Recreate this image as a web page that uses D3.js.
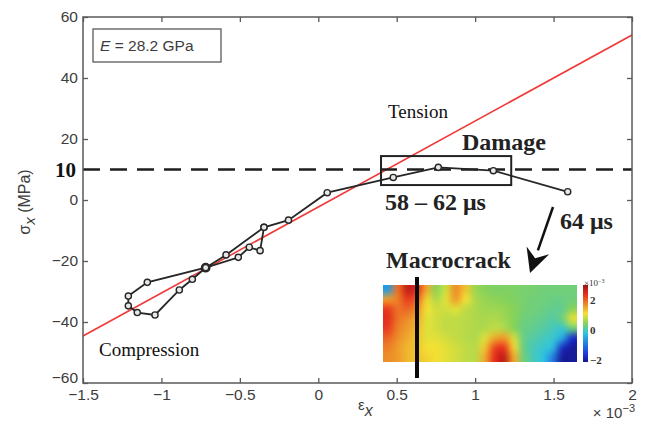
<!DOCTYPE html>
<html>
<head>
<meta charset="utf-8">
<script src="https://cdn.jsdelivr.net/npm/d3@7"></script>
<style>
body { margin: 0; background: #fff; }
</style>
</head>
<body>
<div id="chart"></div>
<script>

let w = 648;
let h = 437;

// strain (x 10^-3) and stress (MPa) along the loading path
let strain = [-0.346, -0.371, -0.44, -0.51, -0.718, -0.803, -0.886, -1.041, -1.154, -1.211, -1.211, -1.09, -0.718, -0.588, -0.346, -0.19, 0.057, 0.478, 0.765, 1.116, 1.59];
let stress = [-8.95, -16.6, -15.5, -18.8, -22.2, -26, -29.5, -37.7, -36.9, -34.7, -31.5, -27, -22.2, -18.0, -8.95, -6.6, 2.4, 7.4, 10.7, 9.6, 2.7];
let filledPoint = 4;

let xTicks = [-1.5, -1, -0.5, 0, 0.5, 1, 1.5, 2];
let yTicks = [-60, -40, -20, 0, 20, 40, 60];
let damageLevel = 10;
let modulus = 28.2;      // GPa -> MPa per 10^-3 strain
let modulusOffset = -2.3;
let damageBox = { strain: [0.4, 1.23], stress: [4.9, 14.4] };

// strain field inset (x 10^-3), rows top -> bottom
let fieldRows = [
	[-0.6, 1.9, 2.7, 2.4, 1.5, 0.5, 0.9, 1.7, 1.3, 0.6, 0.45, 0.4, 0.4, 0.4, 0.35, 0.35, 0.3, 0.3, 0.3, 0.3],
	[1.6, 1.8, 2.3, 2.0, 1.2, 0.7, 1.0, 1.6, 1.1, 0.7, 0.55, 0.5, 0.45, 0.4, 0.35, 0.3, 0.3, 0.25, 0.25, 0.3],
	[2.3, 1.9, 2.0, 1.7, 1.1, 0.9, 0.9, 1.0, 0.8, 0.7, 0.6, 0.6, 0.55, 0.45, 0.35, 0.3, 0.25, 0.2, 0.2, 0.5],
	[2.4, 1.9, 1.7, 1.5, 1.0, 0.9, 0.8, 0.8, 0.75, 0.7, 0.65, 0.7, 0.6, 0.45, 0.3, 0.25, 0.2, 0.1, 0.3, 1.0],
	[2.3, 1.8, 1.6, 1.4, 1.0, 0.9, 0.8, 0.8, 0.75, 0.7, 0.7, 0.8, 0.7, 0.45, 0.25, 0.2, 0.1, 0.0, -0.1, 0.3],
	[2.0, 1.7, 1.5, 1.3, 1.0, 1.0, 0.9, 0.8, 0.75, 0.7, 0.95, 1.5, 1.6, 0.9, 0.25, 0.1, 0.0, -0.1, -0.5, -1.7],
	[1.8, 1.6, 1.4, 1.3, 1.1, 1.1, 1.0, 0.9, 0.8, 0.75, 1.3, 2.2, 2.3, 1.2, 0.25, 0.0, -0.1, -0.3, -1.7, -2.0],
	[1.7, 1.6, 1.4, 1.3, 1.2, 1.1, 1.0, 0.9, 0.8, 0.75, 1.5, 2.4, 2.7, 1.5, 0.3, 0.0, -0.2, -0.9, -2.0, -2.0]
];
let fieldTicks = [2, 0, -2];
let fieldDomain = [-2.1, 3];

let sans = "'Liberation Sans', Arial, sans-serif";
let serif = "'Liberation Serif', 'Times New Roman', serif";

let plotLeft = 83, plotRight = 632, plotTop = 17, plotBottom = 383;

let viz = d3.select("#chart").append("svg")
	.attr("width", w)
	.attr("height", h)
	.style("background-color", "white")
;

let xScale = d3.scaleLinear().domain([-1.5, 2]).range([plotLeft, plotRight]);
let yScale = d3.scaleLinear().domain([-60, 60]).range([plotBottom, plotTop]);

let defs = viz.append("defs");

// clip for plot content
defs.append("clipPath").attr("id", "plotClip")
	.append("rect")
		.attr("x", plotLeft).attr("y", plotTop)
		.attr("width", plotRight - plotLeft).attr("height", plotBottom - plotTop);

let plot = viz.append("g").attr("clip-path", "url(#plotClip)");

// elastic line
plot.append("line")
	.attr("x1", xScale(-1.5)).attr("y1", yScale(modulus * -1.5 + modulusOffset))
	.attr("x2", xScale(2)).attr("y2", yScale(modulus * 2 + modulusOffset))
	.attr("stroke", "#f03a3a")
	.attr("stroke-width", 1.6);

// damage threshold
plot.append("line")
	.attr("x1", plotLeft).attr("x2", plotRight)
	.attr("y1", yScale(damageLevel)).attr("y2", yScale(damageLevel))
	.attr("stroke", "#1e1e1e")
	.attr("stroke-width", 2.6)
	.attr("stroke-dasharray", "17,10");

// loading path
let pts = strain.map((d, i) => [d, stress[i]]);
let line = d3.line().x(d => xScale(d[0])).y(d => yScale(d[1]));

plot.append("path")
	.datum(pts)
	.attr("d", line)
	.attr("fill", "none")
	.attr("stroke", "#262626")
	.attr("stroke-width", 1.8);

plot.selectAll(".pt").data(pts).enter()
	.append("circle")
		.attr("class", "pt")
		.attr("cx", d => xScale(d[0]))
		.attr("cy", d => yScale(d[1]))
		.attr("r", (d, i) => i == filledPoint ? 4.2 : 3.1)
		.attr("fill", (d, i) => i == filledPoint ? "#111" : "#e8e8e8")
		.attr("stroke", "#262626")
		.attr("stroke-width", 1.4);

// damage box
viz.append("rect")
	.attr("x", xScale(damageBox.strain[0]))
	.attr("y", yScale(damageBox.stress[1]))
	.attr("width", xScale(damageBox.strain[1]) - xScale(damageBox.strain[0]))
	.attr("height", yScale(damageBox.stress[0]) - yScale(damageBox.stress[1]))
	.attr("fill", "none")
	.attr("stroke", "#222")
	.attr("stroke-width", 2);

// frame
viz.append("rect")
	.attr("x", plotLeft).attr("y", plotTop)
	.attr("width", plotRight - plotLeft).attr("height", plotBottom - plotTop)
	.attr("fill", "none")
	.attr("stroke", "#5a5a5a")
	.attr("stroke-width", 1.5);

// axes
let xAxis = viz.append("g")
	.attr("transform", `translate(0,${plotBottom})`)
	.call(d3.axisBottom(xScale).tickValues(xTicks).tickSize(-5).tickPadding(6).tickFormat(d3.format("")));
let xTop = viz.append("g")
	.attr("transform", `translate(0,${plotTop})`)
	.call(d3.axisTop(xScale).tickValues(xTicks).tickSize(-5).tickFormat(""));
let yAxis = viz.append("g")
	.attr("transform", `translate(${plotLeft},0)`)
	.call(d3.axisLeft(yScale).tickValues(yTicks).tickSize(-5).tickPadding(5).tickFormat(d3.format("")));
let yRight = viz.append("g")
	.attr("transform", `translate(${plotRight},0)`)
	.call(d3.axisRight(yScale).tickValues(yTicks).tickSize(-5).tickFormat(""));

[xAxis, xTop, yAxis, yRight].forEach(a => {
	a.select(".domain").remove();
	a.selectAll("line").attr("stroke", "#5a5a5a").attr("stroke-width", 1.3);
	a.selectAll("text")
		.attr("fill", "#3c3c3c")
		.style("font-family", sans)
		.style("font-size", "15.5px");
});
// the lowest y label sits a little raised, as in the original
yAxis.selectAll(".tick text").filter(d => d == -60).attr("dy", "-0.05em");

// bold 10 on the y axis
viz.append("text")
	.attr("x", plotLeft - 7).attr("y", yScale(damageLevel) + 7)
	.attr("text-anchor", "end")
	.style("font-family", serif).style("font-weight", "bold").style("font-size", "21px")
	.attr("fill", "#111")
	.text("10");

// axis titles
let yLab = viz.append("text")
	.attr("transform", `translate(30,${(plotTop + plotBottom) / 2 + 2}) rotate(-90)`)
	.attr("text-anchor", "middle")
	.style("font-family", sans).style("font-size", "16px")
	.attr("fill", "#3c3c3c");
yLab.append("tspan").text("σ");
yLab.append("tspan").attr("dy", 5).style("font-style", "italic").style("font-size", "15px").text("x");
yLab.append("tspan").attr("dy", -5).text(" (MPa)");

let xLab = viz.append("text")
	.attr("x", 358).attr("y", 410)
	.style("font-family", sans).style("font-size", "15px")
	.attr("fill", "#3c3c3c");
xLab.append("tspan").text("ε");
xLab.append("tspan").attr("dy", 6).style("font-style", "italic").style("font-size", "16px").text("x");

let expLab = viz.append("text")
	.attr("x", plotRight + 3).attr("y", 418)
	.attr("text-anchor", "end")
	.style("font-family", sans).style("font-size", "15px")
	.attr("fill", "#3c3c3c");
expLab.append("tspan").text("× 10");
expLab.append("tspan").attr("dy", -6).style("font-size", "11px").text("−3");

// modulus box
viz.append("rect")
	.attr("x", 93).attr("y", 29).attr("width", 128).attr("height", 33)
	.attr("fill", "white").attr("stroke", "#5a5a5a").attr("stroke-width", 1.3);
let eLab = viz.append("text")
	.attr("x", 100).attr("y", 51)
	.style("font-family", sans).style("font-size", "15.5px")
	.attr("fill", "#3c3c3c");
eLab.append("tspan").style("font-style", "italic").text("E");
eLab.append("tspan").text(" = 28.2 GPa");

// annotations
viz.append("text").attr("x", 388).attr("y", 118)
	.style("font-family", serif).style("font-size", "19px").attr("fill", "#111")
	.text("Tension");
viz.append("text").attr("x", 99).attr("y", 356)
	.style("font-family", serif).style("font-size", "19px").attr("fill", "#111")
	.text("Compression");
viz.append("text").attr("x", 462).attr("y", 150)
	.style("font-family", serif).style("font-weight", "bold").style("font-size", "24px").attr("fill", "#222")
	.text("Damage");
viz.append("text").attr("x", 385).attr("y", 210)
	.style("font-family", serif).style("font-weight", "bold").style("font-size", "24px").attr("fill", "#222")
	.text("58 – 62 μs");
viz.append("text").attr("x", 560).attr("y", 229)
	.style("font-family", serif).style("font-weight", "bold").style("font-size", "24px").attr("fill", "#222")
	.text("64 μs");
viz.append("text").attr("x", 386).attr("y", 268)
	.style("font-family", serif).style("font-weight", "bold").style("font-size", "24px").attr("fill", "#222")
	.text("Macrocrack");

// arrow from 64 us to the inset
let ax0 = 553, ay0 = 207, ax1 = 530, ay1 = 273;
let ang = Math.atan2(ay1 - ay0, ax1 - ax0);
let headLen = 24, headW = 12;
let bx = ax1 - headLen * Math.cos(ang), by = ay1 - headLen * Math.sin(ang);
viz.append("line")
	.attr("x1", ax0).attr("y1", ay0).attr("x2", bx).attr("y2", by)
	.attr("stroke", "#111").attr("stroke-width", 2.5);
viz.append("path")
	.attr("d", d3.line()([
		[ax1, ay1],
		[bx + headW * Math.sin(ang), by - headW * Math.cos(ang)],
		[ax1 - headLen * 0.65 * Math.cos(ang), ay1 - headLen * 0.65 * Math.sin(ang)],
		[bx - headW * Math.sin(ang), by + headW * Math.cos(ang)]
	]) + "Z")
	.attr("fill", "#111");

// strain field inset
let inset = { x: 383, y: 285, w: 194, h: 77 };
// jet-like map, a bit softened like the printed figure
let jet = d3.scaleLinear()
	.domain([0, 0.11, 0.375, 0.5, 0.625, 0.875, 1].map(t => fieldDomain[0] + t * (fieldDomain[1] - fieldDomain[0])))
	.range(["#16168a", "#1e3cdc", "#2ec4e0", "#86d25a", "#f2e234", "#e8321e", "#9a1212"])
	.clamp(true);

// one pixel per grid value, stretched with smoothing onto a full-size canvas
let nCols = fieldRows[0].length, nRows = fieldRows.length;
let small = document.createElement("canvas");
small.width = nCols;
small.height = nRows;
let sctx = small.getContext("2d");
fieldRows.forEach((row, r) => {
	row.forEach((v, c) => {
		sctx.fillStyle = jet(v);
		sctx.fillRect(c, r, 1, 1);
	});
});
let big = document.createElement("canvas");
big.width = inset.w * 2;
big.height = inset.h * 2;
let bctx = big.getContext("2d");
bctx.imageSmoothingEnabled = true;
bctx.imageSmoothingQuality = "high";
bctx.drawImage(small, 0, 0, big.width, big.height);

viz.append("image")
	.attr("x", inset.x).attr("y", inset.y)
	.attr("width", inset.w).attr("height", inset.h)
	.attr("preserveAspectRatio", "none")
	.attr("href", big.toDataURL());

// macrocrack line
viz.append("line")
	.attr("x1", 417).attr("x2", 417).attr("y1", 277).attr("y2", 378)
	.attr("stroke", "#0a0a0a").attr("stroke-width", 4);

// colorbar
let cbX = 583, cbW = 5;
let cbScale = d3.scaleLinear().domain(fieldDomain).range([inset.y + inset.h, inset.y]);
let grad = defs.append("linearGradient").attr("id", "cbGrad")
	.attr("x1", 0).attr("y1", 1).attr("x2", 0).attr("y2", 0);
jet.domain().forEach(v => {
	grad.append("stop")
		.attr("offset", (v - fieldDomain[0]) / (fieldDomain[1] - fieldDomain[0]))
		.attr("stop-color", jet(v));
});
viz.append("rect")
	.attr("x", cbX).attr("y", inset.y).attr("width", cbW).attr("height", inset.h)
	.attr("fill", "url(#cbGrad)");

viz.selectAll(".cbTick").data(fieldTicks).enter()
	.append("text")
		.attr("class", "cbTick")
		.attr("x", cbX + cbW + 2)
		.attr("y", d => cbScale(d) + 4)
		.style("font-family", serif).style("font-weight", "bold").style("font-size", "11px")
		.attr("fill", "#333")
		.text(d => d3.format("")(d));

let cbExp = viz.append("text")
	.attr("x", cbX + 1).attr("y", inset.y + 1)
	.style("font-family", serif).style("font-size", "9px").attr("fill", "#333");
cbExp.append("tspan").text("×10");
cbExp.append("tspan").attr("dy", -3).style("font-size", "6px").text("−3");

</script>
</body>
</html>
